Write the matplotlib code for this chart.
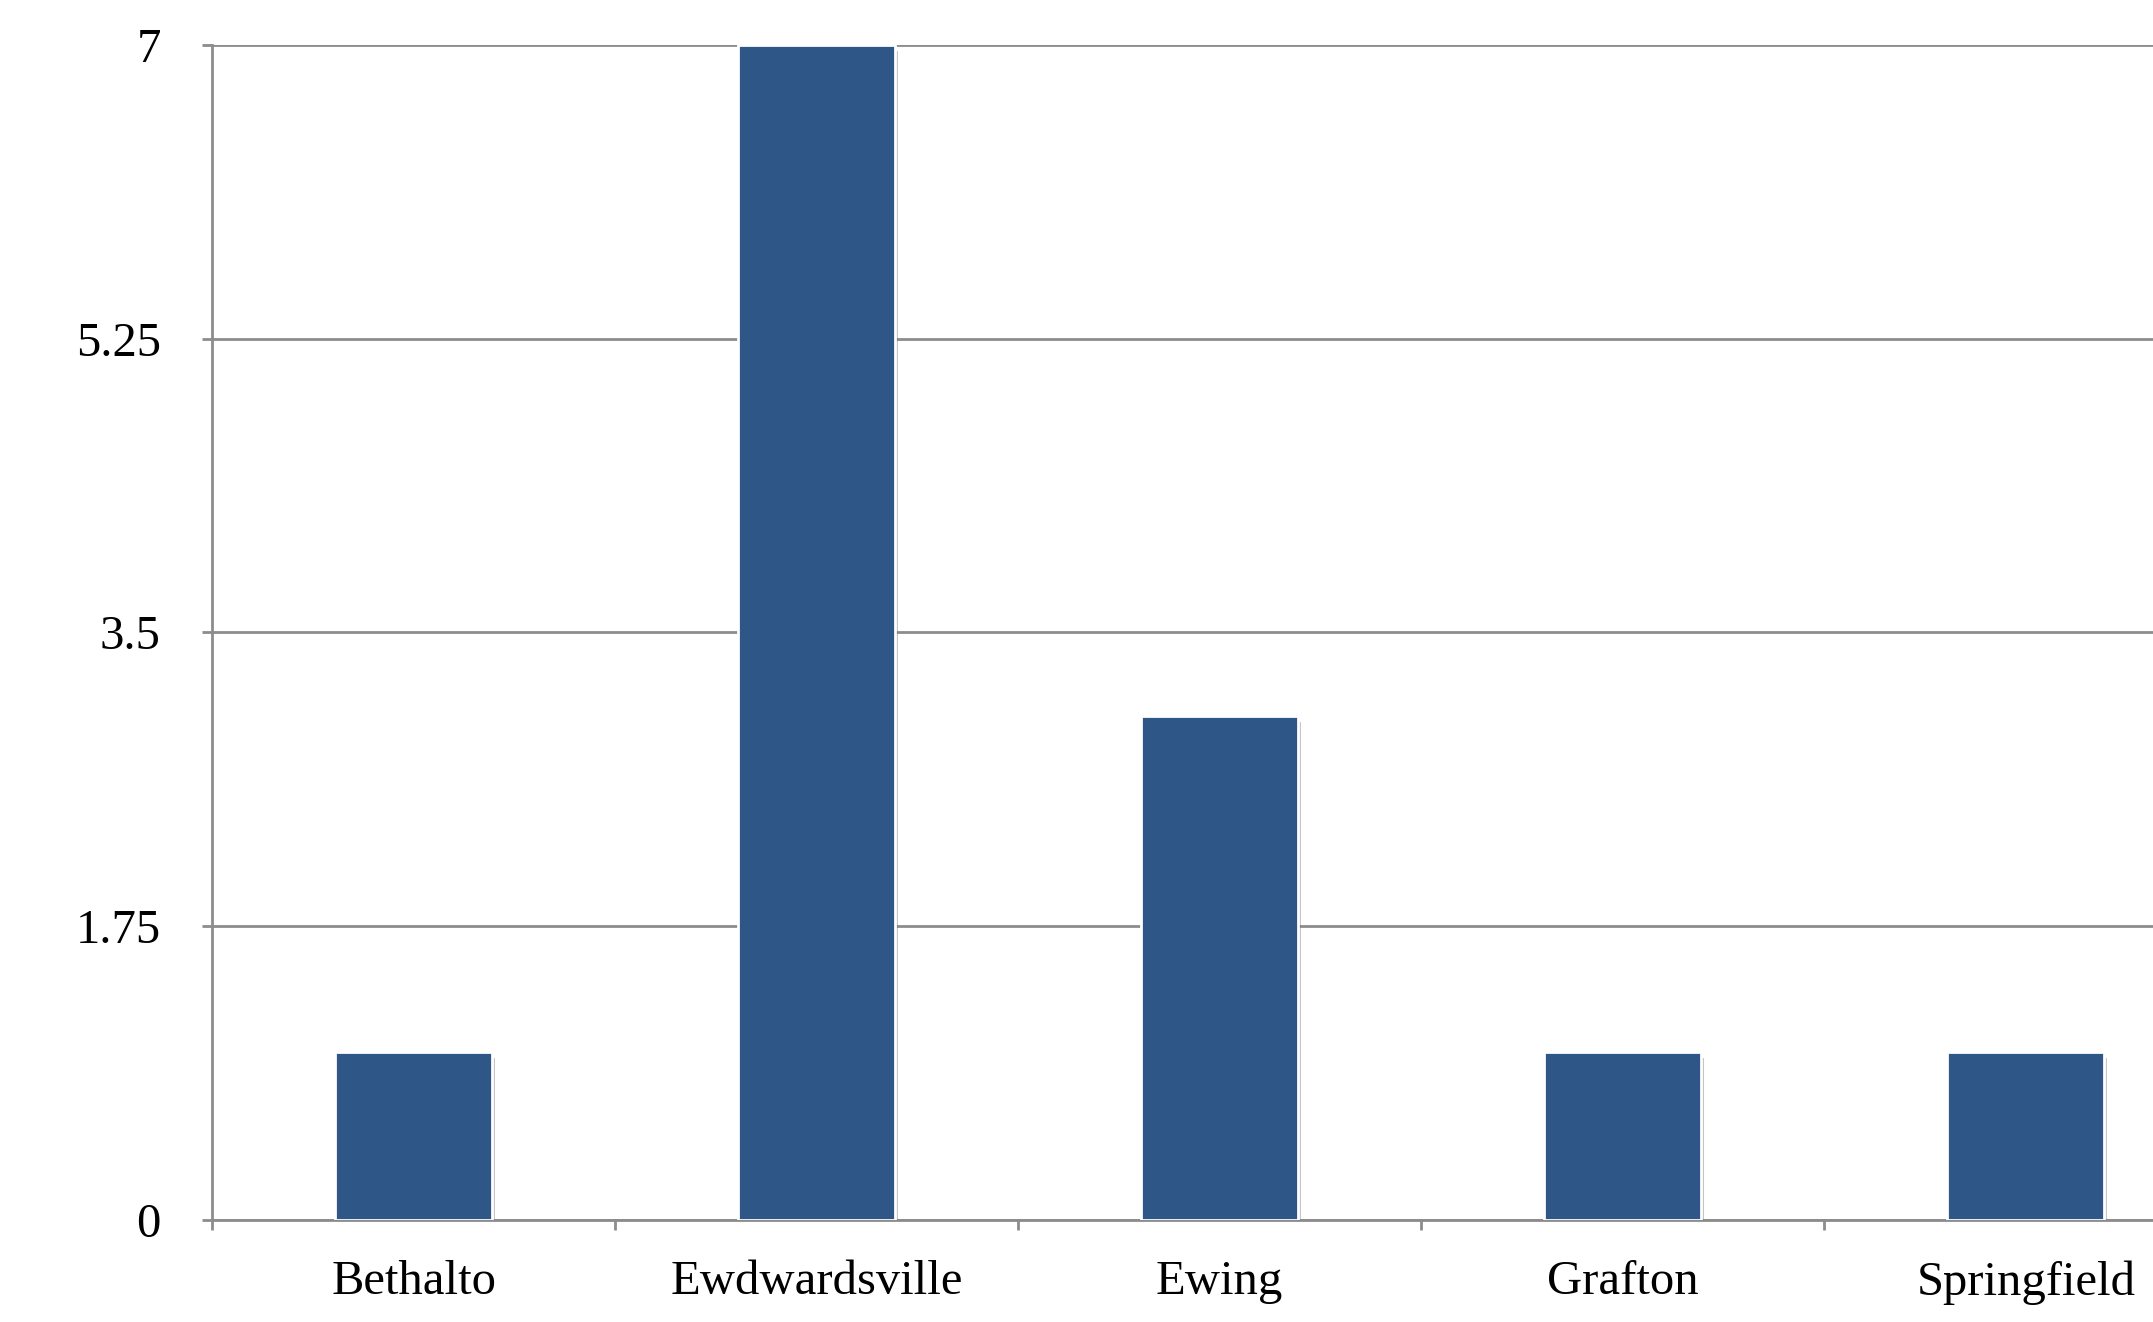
import matplotlib
matplotlib.use('Agg')
import matplotlib.pyplot as plt
import matplotlib.patheffects as pe

towns = ['Bethalto', 'Ewdwardsville', 'Ewing', 'Grafton', 'Springfield']
counts = [1, 7, 3, 1, 1]
yticks = [0, 1.75, 3.5, 5.25, 7]
ytick_labels = ['0', '1.75', '3.5', '5.25', '7']

plt.rcParams['font.family'] = ['Liberation Serif', 'DejaVu Serif']

fig = plt.figure(figsize=(21.53, 13.22), dpi=100)
ax = fig.add_axes([0.0985, 0.0772, 0.936, 0.8888])

grid_col = '#8c8c8c'
x = list(range(len(towns)))
bars = ax.bar(x, counts, width=0.39, color='#2e5788', edgecolor='white',
              linewidth=2, zorder=3)
for b in bars:
    b.set_path_effects([pe.SimplePatchShadow(offset=(2, -4), shadow_rgbFace='#707070', alpha=0.4),
                        pe.Normal()])

ax.set_xlim(-0.5, len(towns) - 0.5)
ax.set_ylim(0, 7)
ax.set_yticks(yticks)
ax.set_yticklabels(ytick_labels)
ax.yaxis.grid(True, color=grid_col, linewidth=2, zorder=0)
ax.set_axisbelow(True)

# category labels centred, tick marks on the boundaries
ax.set_xticks(x)
ax.set_xticklabels(towns)
ax.tick_params(axis='x', which='major', length=0, pad=29, labelsize=35)
ax.set_xticks([i + 0.5 for i in range(len(towns) - 1)] + [-0.5], minor=True)
ax.tick_params(axis='x', which='minor', length=7, width=2, color=grid_col)
ax.tick_params(axis='y', length=7, width=2, color=grid_col, pad=30, labelsize=35)

for side in ['top', 'right']:
    ax.spines[side].set_visible(False)
for side in ['left', 'bottom']:
    ax.spines[side].set_color(grid_col)
    ax.spines[side].set_linewidth(2)

fig.savefig('out.png', dpi=100)
